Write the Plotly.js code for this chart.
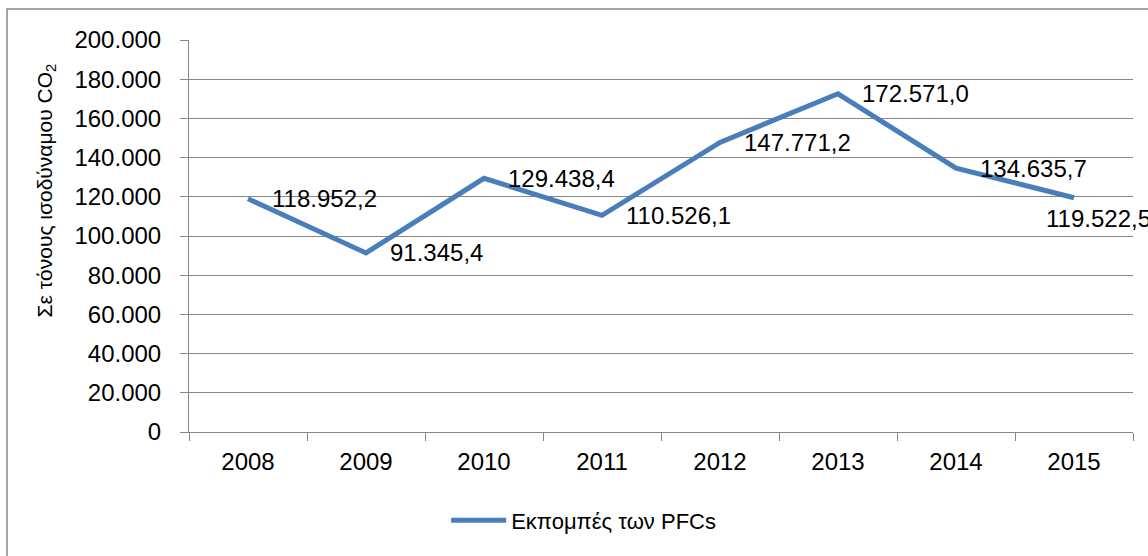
<!DOCTYPE html>
<html>
<head>
<meta charset="utf-8">
<script src="https://cdn.plot.ly/plotly-3.0.1.min.js"></script>
<style>html,body{margin:0;padding:0;background:#fff;}#chart{width:1148px;height:556px;}</style>
</head>
<body>
<div id="chart"></div>
<script>
const years = ['2008','2009','2010','2011','2012','2013','2014','2015'];
const emissions = [118952.2, 91345.4, 129438.4, 110526.1, 147771.2, 172571.0, 134635.7, 119522.5];
const seriesName = 'Εκπομπές των PFCs';
const yTitle = 'Σε τόνους ισοδύναμου CO<sub>2</sub>';

const FONT = 'Liberation Sans, Arial, sans-serif';
const GRID = '#868686';

function fmt(v) {
  const s = v.toFixed(1);
  const [ip, dp] = s.split('.');
  return ip.replace(/\B(?=(\d{3})+(?!\d))/g, '.') + ',' + dp;
}

const annotations = years.map((yr, i) => {
  const last = i === years.length - 1;
  return {
    x: i, y: emissions[i], xref: 'x', yref: 'y',
    text: fmt(emissions[i]), showarrow: false,
    xanchor: 'left', yanchor: 'middle',
    xshift: last ? -30 : 22, yshift: last ? -21 : 0,
    font: {family: FONT, size: 24, color: '#000'}
  };
});

annotations.push({
  xref: 'paper', yref: 'paper', x: -0.152, y: 0.615,
  text: yTitle, showarrow: false, textangle: -90,
  xanchor: 'center', yanchor: 'middle',
  font: {family: FONT, size: 21, color: '#000'}
});

const trace = {
  type: 'scatter', mode: 'lines',
  x: years, y: emissions, name: seriesName,
  line: {color: '#4A7EBB', width: 5},
  hoverinfo: 'skip'
};

const layout = {
  width: 1148, height: 556,
  margin: {l: 189, r: 15, t: 40, b: 124},
  paper_bgcolor: '#fff', plot_bgcolor: '#fff',
  separators: ',.',
  font: {family: FONT, size: 24, color: '#000'},
  showlegend: true,
  legend: {
    orientation: 'h', x: 0.2724, y: -0.172, xanchor: 'left', yanchor: 'top',
    itemwidth: 55,
    font: {family: FONT, size: 22, color: '#000'}, bgcolor: 'rgba(0,0,0,0)'
  },
  xaxis: {
    type: 'category', range: [-0.5, 7.5],
    showgrid: false, showline: true, linecolor: GRID, linewidth: 1,
    ticks: 'outside', tickson: 'boundaries', ticklen: 8, tickcolor: GRID, tickwidth: 1,
    tickfont: {family: FONT, size: 24, color: '#000'},
    ticklabelstandoff: 8, zeroline: false, fixedrange: true
  },
  yaxis: {
    range: [0, 200000], dtick: 20000, tick0: 0, tickformat: ',d',
    showgrid: true, gridcolor: GRID, gridwidth: 1,
    showline: true, linecolor: GRID, linewidth: 1,
    ticks: 'outside', ticklen: 8, tickcolor: GRID, tickwidth: 1,
    tickfont: {family: FONT, size: 24, color: '#000'},
    ticklabelstandoff: 14, zeroline: false, fixedrange: true
  },
  annotations: annotations,
  shapes: [{
    type: 'rect', xref: 'paper', yref: 'paper',
    x0: (7 - 189) / 944, x1: 1.1, y0: -0.4, y1: (432 - 9) / 392,
    line: {color: GRID, width: 1.5}, fillcolor: 'rgba(0,0,0,0)', layer: 'below'
  }]
};

Plotly.newPlot('chart', [trace], layout, {displayModeBar: false, staticPlot: true});
</script>
</body>
</html>
